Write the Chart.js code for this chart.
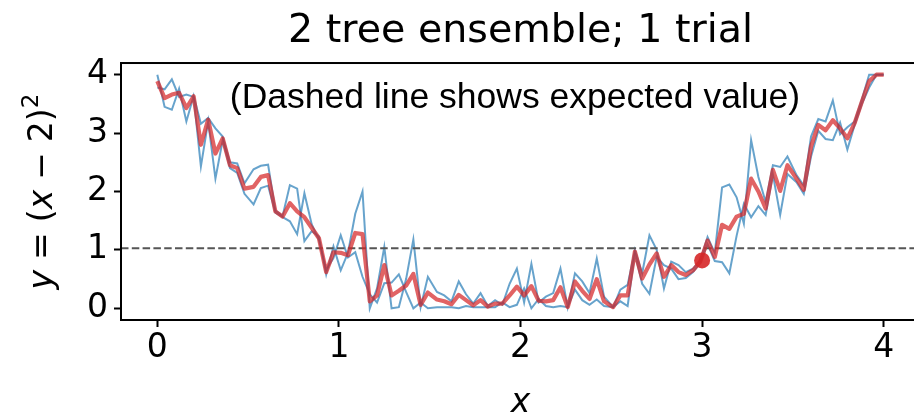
<!DOCTYPE html>
<html>
<head>
<meta charset="utf-8">
<script src="https://cdn.jsdelivr.net/npm/chart.js@4.4.1/dist/chart.umd.min.js"></script>
<style>
  html, body { margin: 0; padding: 0; background: #fff; overflow: hidden; }
  #wrap { width: 928px; height: 420px; }
</style>
</head>
<body>
<div id="wrap"><canvas id="myChart" width="928" height="420"></canvas></div>
<script>
// sample positions along x
let xs = [0.00, 0.04, 0.08, 0.12, 0.16, 0.20, 0.24, 0.28, 0.32, 0.36,
          0.40, 0.44, 0.48, 0.53, 0.57, 0.61, 0.65, 0.69, 0.73, 0.77,
          0.81, 0.85, 0.89, 0.93, 0.97, 1.01, 1.05, 1.09, 1.13, 1.17,
          1.21, 1.25, 1.29, 1.33, 1.37, 1.41, 1.45, 1.49, 1.54, 1.58,
          1.62, 1.66, 1.70, 1.74, 1.78, 1.82, 1.86, 1.90, 1.94, 1.98,
          2.02, 2.06, 2.10, 2.14, 2.18, 2.22, 2.26, 2.30, 2.34, 2.38,
          2.42, 2.46, 2.51, 2.55, 2.59, 2.63, 2.67, 2.71, 2.75, 2.79,
          2.83, 2.87, 2.91, 2.95, 2.99, 3.03, 3.07, 3.11, 3.15, 3.19,
          3.23, 3.27, 3.31, 3.35, 3.39, 3.43, 3.47, 3.52, 3.56, 3.60,
          3.64, 3.68, 3.72, 3.76, 3.80, 3.84, 3.88, 3.92, 3.96, 4.00];

// first tree
let tree1 = [4.00, 3.45, 3.40, 3.76, 3.20, 3.64, 3.16, 3.26, 3.08, 2.94,
             2.50, 2.48, 2.14, 2.38, 2.44, 2.46, 1.68, 1.58, 2.11, 2.05,
             1.15, 1.32, 1.23, 0.58, 1.06, 0.65, 0.95, 1.62, 2.00, 0.00,
             0.34, 1.05, 0.00, 0.02, 0.50, 1.18, 0.02, 0.54, 0.28, 0.22,
             0.12, 0.46, 0.24, 0.08, 0.26, 0.04, 0.14, 0.06, 0.42, 0.68,
             0.10, 0.76, 0.10, 0.20, 0.26, 0.68, 0.02, 0.60, 0.46, 0.26,
             0.85, 0.20, 0.02, 0.32, 0.40, 1.00, 0.60, 1.25, 1.00, 0.34,
             0.80, 0.74, 0.62, 0.68, 0.82, 1.22, 0.95, 2.07, 2.12, 1.90,
             1.45, 2.88, 2.25, 1.82, 2.45, 2.42, 2.60, 2.28, 2.10, 2.94,
             3.24, 3.20, 3.56, 2.98, 3.10, 3.20, 3.58, 4.00, 4.00, 4.00];

// second tree
let tree2 = [3.78, 3.75, 3.92, 3.62, 3.66, 3.62, 2.43, 3.20, 2.22, 2.88,
             2.40, 2.32, 1.96, 1.78, 2.06, 2.10, 1.64, 1.56, 1.49, 1.27,
             1.97, 1.44, 1.17, 0.66, 0.86, 1.25, 0.87, 0.96, 0.54, 0.24,
             0.10, 0.43, 0.44, 0.58, 0.28, 0.00, 0.10, 0.00, 0.02, 0.02,
             0.02, 0.00, 0.04, 0.02, 0.02, 0.02, 0.02, 0.10, 0.02, 0.06,
             0.34, 0.00, 0.16, 0.04, 0.02, 0.04, 0.02, 0.32, 0.14, 0.06,
             0.15, 0.04, 0.02, 0.12, 0.04, 0.94, 0.42, 0.25, 0.88, 0.74,
             0.68, 0.50, 0.52, 0.62, 0.78, 1.10, 0.81, 0.79, 0.60, 1.24,
             1.79, 1.56, 1.75, 1.60, 2.29, 1.60, 2.30, 2.16, 1.96, 2.60,
             3.04, 2.90, 2.88, 3.18, 2.72, 3.14, 3.50, 3.78, 4.00, 4.00];

// ensemble prediction
let ensemble = [3.89, 3.60, 3.66, 3.69, 3.43, 3.63, 2.80, 3.23, 2.65, 2.91,
                2.45, 2.40, 2.05, 2.08, 2.25, 2.28, 1.66, 1.57, 1.80, 1.66,
                1.56, 1.38, 1.20, 0.62, 0.96, 0.95, 0.91, 1.29, 1.27, 0.12,
                0.22, 0.74, 0.22, 0.30, 0.39, 0.59, 0.06, 0.27, 0.15, 0.12,
                0.07, 0.23, 0.14, 0.05, 0.14, 0.03, 0.08, 0.08, 0.22, 0.37,
                0.22, 0.38, 0.13, 0.12, 0.14, 0.36, 0.02, 0.46, 0.30, 0.16,
                0.50, 0.12, 0.02, 0.22, 0.22, 0.97, 0.51, 0.75, 0.94, 0.54,
                0.74, 0.62, 0.57, 0.65, 0.80, 1.16, 0.88, 1.43, 1.36, 1.57,
                1.62, 2.22, 2.00, 1.71, 2.37, 2.01, 2.45, 2.22, 2.03, 2.77,
                3.14, 3.05, 3.22, 3.08, 2.91, 3.17, 3.54, 3.89, 4.00, 4.00];

let expectedValue = 1.03;
let queryX = [3];
let queryY = [0.82];
let xTicks = [0, 1, 2, 3, 4];
let yTicks = [0, 1, 2, 3, 4];
let xRange = [-0.2, 4.2];
let yRange = [-0.2, 4.2];
let titulo = '2 tree ensemble; 1 trial';
let nota = '(Dashed line shows expected value)';

function pontos(xv, yv) {
    return xv.map((x, i) => ({ x: x, y: yv[i] }));
}

// frame + note + y label (mathtext style)
const extras = {
    id: 'extras',
    afterDatasetsDraw(chart) {
        const ctx = chart.ctx;
        const a = chart.chartArea;
        ctx.save();
        ctx.strokeStyle = '#000';
        ctx.lineWidth = 2;
        ctx.strokeRect(a.left, a.top, a.right - a.left, a.bottom - a.top);

        ctx.fillStyle = '#000';
        ctx.font = '35.5px "Liberation Sans", Arial, sans-serif';
        ctx.textAlign = 'center';
        ctx.textBaseline = 'alphabetic';
        ctx.fillText(nota, 515, 108);
        ctx.restore();
    },
    afterDraw(chart) {
        const ctx = chart.ctx;
        const a = chart.chartArea;
        const size = 33;
        const gap = 10;
        const parts = [
            { t: 'y', it: true }, { gap: gap }, { t: '=' }, { gap: gap }, { t: '(' },
            { t: 'x', it: true }, { gap: gap }, { t: '\u2212' }, { gap: gap },
            { t: '2' }, { t: ')' }, { t: '2', sup: true }
        ];
        const fontFor = (p) => {
            let s = p.sup ? size * 0.7 : size;
            return (p.it ? 'italic ' : '') + s + 'px "DejaVu Sans"';
        };
        ctx.save();
        let total = 0;
        parts.forEach(p => {
            if (p.gap) { p.w = p.gap; }
            else { ctx.font = fontFor(p); p.w = ctx.measureText(p.t).width; }
            total += p.w;
        });
        ctx.translate(52, (a.top + a.bottom) / 2);
        ctx.rotate(-Math.PI / 2);
        ctx.fillStyle = '#000';
        ctx.textAlign = 'left';
        ctx.textBaseline = 'alphabetic';
        let pos = -total / 2;
        parts.forEach(p => {
            if (!p.gap) {
                ctx.font = fontFor(p);
                ctx.fillText(p.t, pos, p.sup ? -14 : 0);
            }
            pos += p.w;
        });
        ctx.restore();
    }
};

let ctx = document.getElementById('myChart').getContext('2d');

let myChart = new Chart(ctx, {
    type: 'scatter',
    data: {
        datasets: [
            {
                data: pontos(queryX, queryY),
                backgroundColor: 'rgba(214, 39, 40, 0.9)',
                borderWidth: 0,
                pointRadius: 8,
                showLine: false
            },
            {
                data: pontos(xs, ensemble),
                borderColor: 'rgba(214, 39, 40, 0.72)',
                borderWidth: 4.2,
                pointRadius: 0,
                showLine: true,
                borderJoinStyle: 'round'
            },
            {
                data: pontos(xRange, [expectedValue, expectedValue]),
                borderColor: '#555',
                borderWidth: 2,
                borderDash: [7.5, 3.3],
                pointRadius: 0,
                showLine: true
            },
            {
                data: pontos(xs, tree1),
                borderColor: 'rgba(31, 119, 180, 0.68)',
                borderWidth: 2,
                pointRadius: 0,
                showLine: true
            },
            {
                data: pontos(xs, tree2),
                borderColor: 'rgba(31, 119, 180, 0.68)',
                borderWidth: 2,
                pointRadius: 0,
                showLine: true
            }
        ]
    },
    plugins: [extras],
    options: {
        responsive: false,
        animation: false,
        events: [],
        layout: { padding: 0 },
        plugins: {
            legend: { display: false },
            tooltip: { enabled: false },
            title: {
                display: true,
                text: titulo,
                fullSize: false,
                color: '#000',
                font: { family: 'DejaVu Sans', size: 39.6, weight: 'normal' },
                padding: { top: 8, bottom: 7.5 }
            }
        },
        scales: {
            x: {
                type: 'linear',
                min: xRange[0],
                max: xRange[1],
                afterBuildTicks: (scale) => { scale.ticks = xTicks.map(v => ({ value: v })); },
                afterFit: (scale) => { scale.height = 100; },
                ticks: {
                    color: '#000',
                    padding: 2,
                    font: { family: 'DejaVu Sans', size: 33 }
                },
                grid: {
                    drawOnChartArea: false,
                    drawTicks: true,
                    tickLength: 7,
                    tickWidth: 2,
                    tickColor: '#000'
                },
                border: { display: false },
                title: {
                    display: true,
                    text: 'x',
                    color: '#000',
                    padding: { top: 0, bottom: 0 },
                    font: { family: 'DejaVu Sans', size: 33, style: 'italic', lineHeight: 1.0 }
                }
            },
            y: {
                type: 'linear',
                min: yRange[0],
                max: yRange[1],
                afterBuildTicks: (scale) => { scale.ticks = yTicks.map(v => ({ value: v })); },
                afterFit: (scale) => { scale.width = 121; },
                ticks: {
                    color: '#000',
                    padding: 6,
                    font: { family: 'DejaVu Sans', size: 33 }
                },
                grid: {
                    drawOnChartArea: false,
                    drawTicks: true,
                    tickLength: 7,
                    tickWidth: 2,
                    tickColor: '#000'
                },
                border: { display: false }
            }
        }
    }
});
</script>
</body>
</html>
